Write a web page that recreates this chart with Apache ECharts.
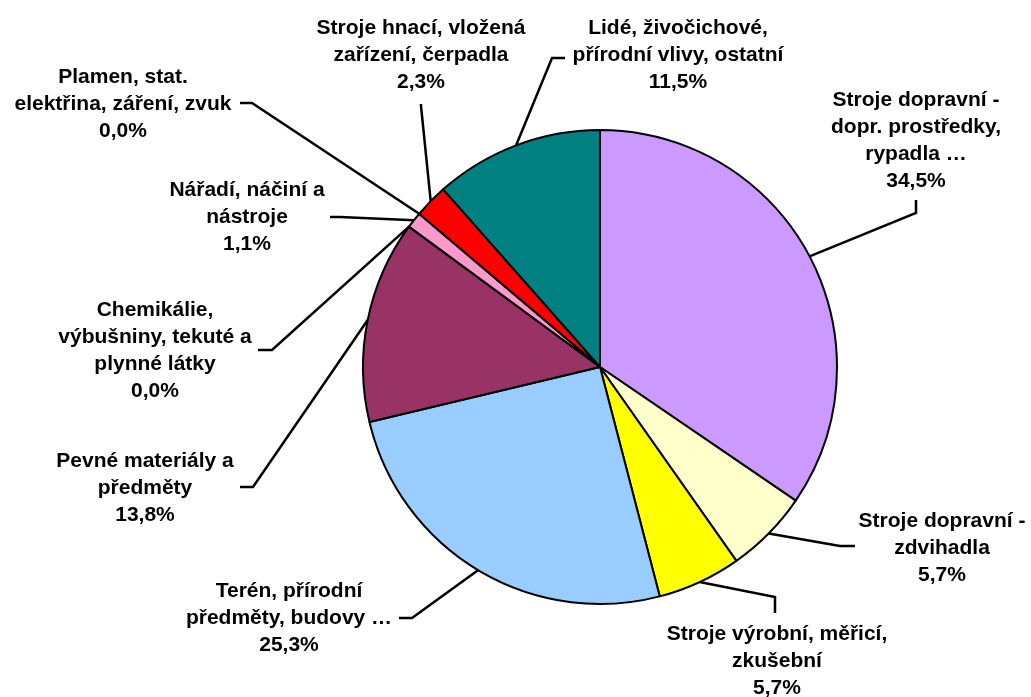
<!DOCTYPE html>
<html>
<head>
<meta charset="utf-8">
<script src="https://cdn.jsdelivr.net/npm/echarts@6/dist/echarts.min.js"></script>
<style>
  html, body { margin: 0; padding: 0; background: #fff; }
  #chart { width: 1031px; height: 697px; }
</style>
</head>
<body>
<div id="chart"></div>
<script>
// kategorie (po směru hodinových ručiček od 12 h)
const categories = [
  'Stroje dopravní -\ndopr. prostředky,\nrypadla …',
  'Stroje dopravní -\nzdvihadla',
  'Stroje výrobní, měřicí,\nzkušební',
  'Terén, přírodní\npředměty, budovy …',
  'Pevné materiály a\npředměty',
  'Chemikálie,\nvýbušniny, tekuté a\nplynné látky',
  'Nářadí, náčiní a\nnástroje',
  'Plamen, stat.\nelektřina, záření, zvuk',
  'Stroje hnací, vložená\nzařízení, čerpadla',
  'Lidé, živočichové,\npřírodní vlivy, ostatní'
]
const shares = [34.5, 5.7, 5.7, 25.3, 13.8, 0, 1.1, 0, 2.3, 11.5]
const sliceColors = ['#CC99FF', '#FFFFCC', '#FFFF00', '#99CCFF', '#993366',
  '#FFCC99', '#FF99CC', '#FF6600', '#FF0000', '#008080']

// střed textu popisku a dva lomy vodicí čáry
const labelCenters = [[916, 141], [942, 548], [777, 661], [289, 618], [145, 488],
  [155, 351], [247, 217], [123, 104], [421, 55], [678, 55]]
const leaderBends = [
  [[916, 213], [916, 200]],
  [[840, 546], [855, 546]],
  [[775, 597], [775, 613]],
  [[412, 618], [399, 618]],
  [[253, 487], [240, 487]],
  [[272, 350], [258, 350]],
  [[340, 217], [330, 217]],
  [[252, 103], [240, 103]],
  [[421, 106], [421, 104]],
  [[552, 58], [565, 58]]
]

const chart = echarts.init(document.getElementById('chart'))

chart.setOption({
  animation: false,
  series: [{
    type: 'pie',
    center: [600, 367],
    radius: 237,
    startAngle: 90,
    clockwise: true,
    avoidLabelOverlap: false,
    itemStyle: { borderColor: '#000', borderWidth: 2 },
    label: {
      show: true,
      position: 'outside',
      color: '#000',
      fontFamily: '"Liberation Sans", Arial, sans-serif',
      fontWeight: 'bold',
      fontSize: 21,
      lineHeight: 27,
      align: 'center',
      formatter: p => p.name + '\n' + p.value.toFixed(1).replace('.', ',') + '%'
    },
    labelLine: {
      show: true,
      lineStyle: { color: '#000', width: 2.5 }
    },
    labelLayout(params) {
      const i = params.dataIndex
      const c = labelCenters[i]
      const b = leaderBends[i]
      const start = params.labelLinePoints[0]
      return {
        x: c[0],
        y: c[1],
        align: 'center',
        verticalAlign: 'middle',
        labelLinePoints: [start, b[0], b[1]]
      }
    },
    emphasis: { disabled: true },
    data: categories.map((name, i) => ({
      name: name,
      value: shares[i],
      itemStyle: { color: sliceColors[i] }
    }))
  }]
})
</script>
</body>
</html>
